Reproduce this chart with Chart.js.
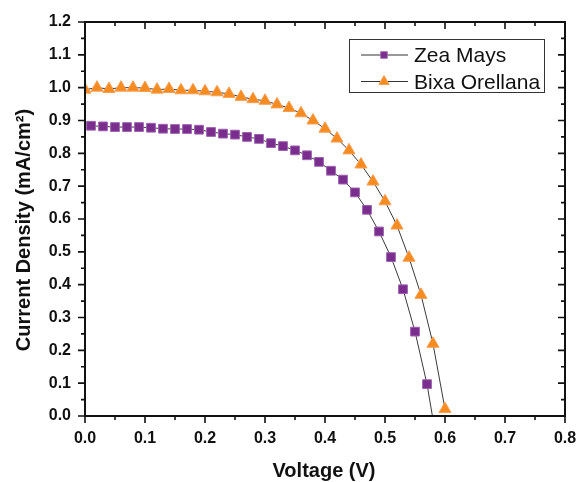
<!DOCTYPE html>
<html>
<head>
<meta charset="utf-8">
<title>J-V curves</title>
<script src="https://cdn.jsdelivr.net/npm/chart.js@4.4.0/dist/chart.umd.min.js"></script>
<style>
  html, body { margin: 0; padding: 0; background: #fff; }
  #wrap { width: 576px; height: 482px; }
</style>
</head>
<body>
<div id="wrap"><canvas id="jvChart" width="576" height="482"></canvas></div>
<script>
// Values
const zeaVoltage = [0.01, 0.03, 0.05, 0.07, 0.09, 0.11, 0.13, 0.15, 0.17, 0.19,
  0.21, 0.23, 0.25, 0.27, 0.29, 0.31, 0.33, 0.35, 0.37, 0.39,
  0.41, 0.43, 0.45, 0.47, 0.49, 0.51, 0.53, 0.55, 0.57, 0.579];
const zeaCurrent = [0.884, 0.882, 0.880, 0.880, 0.880, 0.878, 0.875, 0.874, 0.874, 0.872,
  0.865, 0.860, 0.857, 0.850, 0.844, 0.831, 0.822, 0.809, 0.794, 0.774,
  0.747, 0.720, 0.681, 0.628, 0.562, 0.484, 0.386, 0.257, 0.097, 0.0];

const bixaVoltage = [0.00, 0.02, 0.04, 0.06, 0.08, 0.10, 0.12, 0.14, 0.16, 0.18,
  0.20, 0.22, 0.24, 0.26, 0.28, 0.30, 0.32, 0.34, 0.36, 0.38,
  0.40, 0.42, 0.44, 0.46, 0.48, 0.50, 0.52, 0.54, 0.56, 0.58, 0.60];
const bixaCurrent = [0.994, 1.000, 0.996, 1.000, 1.000, 0.999, 0.994, 0.996, 0.992, 0.992,
  0.989, 0.986, 0.981, 0.972, 0.965, 0.960, 0.949, 0.938, 0.922, 0.900,
  0.875, 0.845, 0.809, 0.766, 0.714, 0.654, 0.580, 0.482, 0.369, 0.220, 0.021];

const seriesNames = ["Zea Mays", "Bixa Orellana"];
const xTickValues = [0, 0.1, 0.2, 0.3, 0.4, 0.5, 0.6, 0.7, 0.8];
const yTickValues = [0, 0.1, 0.2, 0.3, 0.4, 0.5, 0.6, 0.7, 0.8, 0.9, 1.0, 1.1, 1.2];

const PURPLE = "#7b2d8e";
const ORANGE = "#f68b1f";
const FONT = "'Liberation Sans', Arial, sans-serif";

function toPoints(xs, ys) {
  return xs.map((x, i) => ({ x: x, y: ys[i] }));
}

// last Zea point only carries the line down to the axis, no symbol
const zeaRadius = zeaVoltage.map((v, i) => (i === zeaVoltage.length - 1 ? 0 : 6.2));

// frame, inward/outward ticks, axis titles and the boxed legend
const framePlugin = {
  id: "frame",
  afterDraw(chart) {
    const ctx = chart.ctx;
    const area = chart.chartArea;
    const xs = chart.scales.x;
    const ys = chart.scales.y;
    ctx.save();
    ctx.strokeStyle = "#111";
    ctx.lineWidth = 1.6;

    // x ticks every 0.05, labelled ones longer
    for (let i = 0; i <= 16; i++) {
      const px = xs.getPixelForValue(i * 0.05);
      const len = i % 2 === 0 ? 7 : 4;
      ctx.beginPath();
      ctx.moveTo(px, area.bottom);
      ctx.lineTo(px, area.bottom + len);
      ctx.moveTo(px, area.top);
      ctx.lineTo(px, area.top + len);
      ctx.stroke();
    }
    // y ticks every 0.05
    for (let i = 0; i <= 24; i++) {
      const py = ys.getPixelForValue(i * 0.05);
      const len = i % 2 === 0 ? 7 : 4;
      ctx.beginPath();
      ctx.moveTo(area.left, py);
      ctx.lineTo(area.left - len, py);
      ctx.moveTo(area.right, py);
      ctx.lineTo(area.right - len, py);
      ctx.stroke();
    }

    ctx.lineWidth = 2;
    ctx.strokeRect(area.left, area.top, area.right - area.left, area.bottom - area.top);

    // axis titles
    ctx.fillStyle = "#111";
    ctx.font = "bold 20px " + FONT;
    ctx.textAlign = "center";
    ctx.textBaseline = "middle";
    ctx.fillText("Voltage (V)", (area.left + area.right) / 2 - 1, 471);
    ctx.save();
    ctx.translate(24, 230);
    ctx.rotate(-Math.PI / 2);
    ctx.fillText("Current Density (mA/cm\u00B2)", 0, 0);
    ctx.restore();

    // legend
    ctx.lineWidth = 1;
    ctx.strokeStyle = "#333";
    ctx.strokeRect(349.5, 39.5, 195, 53);
    const rows = [55, 81.5];
    const baselines = [62, 89];
    chart.data.datasets.forEach((ds, i) => {
      const cy = rows[i];
      ctx.strokeStyle = "#333";
      ctx.lineWidth = 1;
      ctx.beginPath();
      ctx.moveTo(361, cy);
      ctx.lineTo(408, cy);
      ctx.stroke();
      ctx.fillStyle = ds.pointBackgroundColor;
      ctx.strokeStyle = ds.pointBorderColor;
      Chart.helpers.drawPoint(ctx, {
        pointStyle: ds.pointStyle,
        radius: i === 0 ? 4.6 : 6,
        rotation: 0,
        borderWidth: 1
      }, 384, cy);
      ctx.fillStyle = "#111";
      ctx.font = "21px " + FONT;
      ctx.textAlign = "left";
      ctx.textBaseline = "alphabetic";
      ctx.fillText(ds.label, 414, baselines[i]);
    });
    ctx.restore();
  }
};

new Chart(document.getElementById("jvChart"), {
  type: "scatter",
  data: {
    datasets: [
      {
        label: seriesNames[0],
        data: toPoints(zeaVoltage, zeaCurrent),
        showLine: true,
        borderColor: "#3a3a3a",
        borderWidth: 1,
        pointStyle: "rect",
        pointRadius: zeaRadius,
        pointBackgroundColor: PURPLE,
        pointBorderColor: "#9b62ad",
        pointBorderWidth: 1,
        pointHoverRadius: zeaRadius
      },
      {
        label: seriesNames[1],
        data: toPoints(bixaVoltage, bixaCurrent),
        showLine: true,
        borderColor: "#3a3a3a",
        borderWidth: 1,
        pointStyle: "triangle",
        pointRadius: 7,
        pointBackgroundColor: ORANGE,
        pointBorderColor: "#f7a055",
        pointBorderWidth: 1,
        pointHoverRadius: 7
      }
    ]
  },
  options: {
    responsive: false,
    animation: false,
    devicePixelRatio: 1,
    layout: { padding: { top: 22, right: 11, left: 0, bottom: 0 } },
    plugins: {
      legend: { display: false },
      tooltip: { enabled: false }
    },
    scales: {
      x: {
        type: "linear",
        min: 0,
        max: 0.8,
        afterFit(scale) {
          scale.height = 66;
          scale.paddingLeft = 0;
          scale.paddingRight = 0;
        },
        afterBuildTicks(scale) { scale.ticks = xTickValues.map(v => ({ value: v })); },
        grid: { display: false, drawTicks: false },
        border: { display: false },
        ticks: {
          padding: 13,
          color: "#111",
          font: { family: FONT, size: 16, weight: "bold" },
          callback: v => v.toFixed(1)
        }
      },
      y: {
        type: "linear",
        min: 0,
        max: 1.2,
        afterFit(scale) {
          scale.width = 85;
          scale.paddingTop = 0;
          scale.paddingBottom = 0;
        },
        afterBuildTicks(scale) { scale.ticks = yTickValues.map(v => ({ value: v })); },
        grid: { display: false, drawTicks: false },
        border: { display: false },
        ticks: {
          padding: 14,
          color: "#111",
          font: { family: FONT, size: 16, weight: "bold" },
          callback: v => v.toFixed(1)
        }
      }
    }
  },
  plugins: [framePlugin]
});
</script>
</body>
</html>
